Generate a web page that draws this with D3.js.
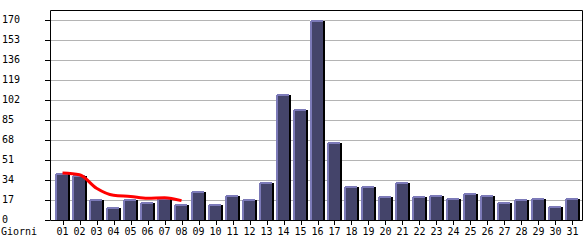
<!DOCTYPE html>
<html>
<head>
<meta charset="utf-8">
<script src="https://cdn.jsdelivr.net/npm/d3@7"></script>
<style>
  body { margin: 0; background: #fff; }
  svg { display: block; }
  text { font-family: 'DejaVu Sans Mono', monospace; font-size: 10px; fill: #000; }
</style>
</head>
<body>
<svg id="chart" width="585" height="240"></svg>
<script>
const days = ['01','02','03','04','05','06','07','08','09','10','11','12','13','14','15','16',
  '17','18','19','20','21','22','23','24','25','26','27','28','29','30','31']
const visits = [40, 38, 18, 11, 18, 15, 19, 14, 25, 14, 21, 18, 32, 107, 94, 170,
  66, 29, 29, 20, 32, 20, 21, 19, 23, 21, 15, 18, 19, 12, 19]
const trendDays = ['01','02','03','04','05','06','07','08']
const trend = [40, 38.5, 27, 21, 20, 18.5, 19, 16.5]
const yTicks = [0, 17, 34, 51, 68, 85, 102, 119, 136, 153, 170]
const xTitle = 'Giorni'

const svg = d3.select('#chart')
const plotLeft = 50, plotRight = 582, plotTop = 10, plotBottom = 220

const x = d3.scaleBand()
  .domain(days)
  .range([53, 582])
  .paddingInner(0.12)
  .paddingOuter(0.12)

const y = d3.scaleLinear()
  .domain([0, 170])
  .range([plotBottom, 20])

// grid
svg.append('g')
  .selectAll('line')
  .data(yTicks.filter(d => d > 0))
  .enter()
  .append('line')
    .attr('x1', plotLeft).attr('x2', plotRight)
    .attr('y1', d => y(d) + 0.5).attr('y2', d => y(d) + 0.5)
    .attr('stroke', '#b4b4b4')

// bars: light edge, body, dark shadow
const bars = svg.append('g')
  .selectAll('g')
  .data(days.map((d, i) => ({ day: d, value: visits[i] })))
  .enter()
  .append('g')

const bw = x.bandwidth()
const bx = d => Math.round(x(d.day))
const by = d => Math.round(y(d.value))

bars.append('rect')
  .attr('x', bx)
  .attr('y', by)
  .attr('width', Math.round(bw) - 2)
  .attr('height', d => plotBottom - by(d))
  .attr('fill', '#7c7ab8')

bars.append('rect')
  .attr('x', d => bx(d) + 2)
  .attr('y', d => by(d) + 2)
  .attr('width', Math.round(bw) - 4)
  .attr('height', d => Math.max(0, plotBottom - by(d) - 2))
  .attr('fill', '#44446a')

bars.append('rect')
  .attr('x', d => bx(d) + Math.round(bw) - 2)
  .attr('y', d => by(d) + 1)
  .attr('width', 2)
  .attr('height', d => plotBottom - by(d) - 1)
  .attr('fill', '#000')

bars.append('rect')
  .attr('x', bx)
  .attr('y', by)
  .attr('width', 1)
  .attr('height', 1)
  .attr('fill', '#fff')

// trend line
const line = d3.line()
  .x((d, i) => x(trendDays[i]) + bw / 2)
  .y(d => y(d))
  .curve(d3.curveMonotoneX)

svg.append('path')
  .datum(trend)
  .attr('d', line)
  .attr('fill', 'none')
  .attr('stroke', '#ff0000')
  .attr('stroke-width', 3)

// frame
svg.append('path')
  .attr('d', `M${plotLeft + 0.5},${plotBottom + 0.5}V${plotTop + 0.5}H${plotRight + 0.5}V${plotBottom + 0.5}H${plotLeft + 0.5}`)
  .attr('fill', 'none')
  .attr('stroke', '#000')

// y axis ticks + labels
const yg = svg.append('g')
yg.selectAll('line')
  .data(yTicks)
  .enter()
  .append('line')
    .attr('x1', 45).attr('x2', plotLeft)
    .attr('y1', d => y(d) + 0.5).attr('y2', d => y(d) + 0.5)
    .attr('stroke', '#000')
yg.selectAll('text')
  .data(yTicks)
  .enter()
  .append('text')
    .attr('x', 2)
    .attr('y', d => y(d) + 3)
    .text(d => d)

// x axis ticks + labels
const xg = svg.append('g')
xg.selectAll('line')
  .data(days)
  .enter()
  .append('line')
    .attr('x1', d => Math.round(x(d) + bw / 2) + 0.5)
    .attr('x2', d => Math.round(x(d) + bw / 2) + 0.5)
    .attr('y1', plotBottom).attr('y2', plotBottom + 5)
    .attr('stroke', '#000')
xg.selectAll('text')
  .data(days)
  .enter()
  .append('text')
    .attr('x', d => x(d) + bw / 2)
    .attr('y', 235)
    .attr('text-anchor', 'middle')
    .text(d => d)

svg.append('text')
  .attr('x', 1)
  .attr('y', 235)
  .text(xTitle)
</script>
</body>
</html>
